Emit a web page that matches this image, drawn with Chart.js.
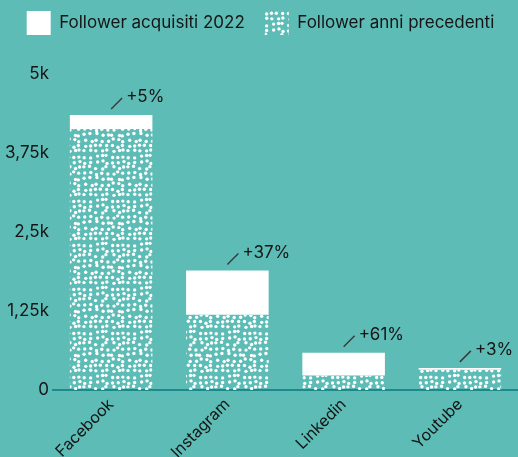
<!DOCTYPE html>
<html>
<head>
<meta charset="utf-8">
<script src="https://cdn.jsdelivr.net/npm/chart.js@4"></script>
<style>
  html, body { margin: 0; padding: 0; background: #5dbcb6; }
  #wrap { width: 518px; height: 457px; }
</style>
</head>
<body>
<div id="wrap"><canvas id="socialChart" width="518" height="457"></canvas></div>
<script>
// dati (follower)
const categories = ['Facebook', 'Instagram', 'Linkedin', 'Youtube'];
const followerPrecedenti = [4130, 1190, 230, 320];
const followerAcquisiti = [220, 700, 360, 30];
const crescitaLabels = ['+5%', '+37%', '+61%', '+3%'];
const yTicks = [0, 1250, 2500, 3750, 5000];
const yTickLabels = ['0', '1,25k', '2,5k', '3,75k', '5k'];

const TEXT = '#151515';
const FONT = 'Inter, "DejaVu Sans", sans-serif';

// tile a pois bianchi, griglia con jitter
function dotPattern() {
    const size = 44, step = 5.5, r = 1.7;
    const c = document.createElement('canvas');
    c.width = size; c.height = size;
    const g = c.getContext('2d');
    g.fillStyle = '#ffffff';
    const jit = (i, j, k) => {
        const s = Math.sin(i * 12.9898 + j * 78.233 + k * 37.719) * 43758.5453;
        return (s - Math.floor(s)) - 0.5;
    };
    for (let i = 0; i < size / step; i++) {
        for (let j = 0; j < size / step; j++) {
            const x = i * step + step / 2 + jit(i, j, 1) * 3;
            const y = j * step + step / 2 + jit(i, j, 2) * 3;
            for (const dx of [-size, 0, size]) {
                for (const dy of [-size, 0, size]) {
                    g.beginPath();
                    g.arc(x + dx, y + dy, r, 0, Math.PI * 2);
                    g.fill();
                }
            }
        }
    }
    return g.createPattern(c, 'repeat');
}

const pattern = dotPattern();

const annotationPlugin = {
    id: 'crescita',
    afterDatasetsDraw(chart) {
        const ctx = chart.ctx;
        const meta = chart.getDatasetMeta(1);
        ctx.save();
        meta.data.forEach((bar, i) => {
            const x = bar.x, y = bar.y;
            ctx.strokeStyle = '#3a3a3a';
            ctx.lineWidth = 1.5;
            ctx.beginPath();
            ctx.moveTo(x, y - 6);
            ctx.lineTo(x + 11, y - 17);
            ctx.stroke();
            ctx.fillStyle = TEXT;
            ctx.font = '17px ' + FONT;
            ctx.textAlign = 'left';
            ctx.textBaseline = 'middle';
            ctx.fillText(crescitaLabels[i], x + 15, y - 18);
        });
        ctx.restore();
    }
};

new Chart(document.getElementById('socialChart'), {
    type: 'bar',
    data: {
        labels: categories,
        datasets: [
            {
                label: 'Follower anni precedenti',
                data: followerPrecedenti,
                backgroundColor: pattern,
                borderWidth: 0
            },
            {
                label: 'Follower acquisiti 2022',
                data: followerAcquisiti,
                backgroundColor: '#ffffff',
                borderWidth: 0
            }
        ]
    },
    options: {
        responsive: false,
        animation: false,
        layout: { padding: { top: -9, right: -3, left: 0, bottom: 0 } },
        datasets: {
            bar: { categoryPercentage: 1, barPercentage: 0.71 }
        },
        plugins: {
            legend: {
                reverse: true,
                position: 'top',
                labels: {
                    boxWidth: 24,
                    boxHeight: 24,
                    padding: 20,
                    color: TEXT,
                    font: { family: FONT, size: 17 }
                }
            },
            tooltip: { enabled: false }
        },
        scales: {
            x: {
                stacked: true,
                grid: { display: false, drawTicks: false },
                border: { display: true, color: '#1d8b8e', width: 2 },
                afterFit(scale) { scale.height = 67; },
                ticks: {
                    color: TEXT,
                    font: { family: FONT, size: 16 },
                    minRotation: 45,
                    maxRotation: 45,
                    padding: 5
                }
            },
            y: {
                stacked: true,
                min: 0,
                max: 5000,
                grid: { display: false, drawTicks: false },
                border: { display: false },
                afterFit(scale) { scale.width = 53; },
                afterBuildTicks(scale) {
                    scale.ticks = yTicks.map(v => ({ value: v }));
                },
                ticks: {
                    color: TEXT,
                    font: { family: FONT, size: 17 },
                    padding: 4,
                    callback: (v) => yTickLabels[yTicks.indexOf(v)]
                }
            }
        }
    },
    plugins: [annotationPlugin, {
        id: 'legendGap',
        beforeInit(chart) {
            const fit = chart.legend.fit;
            chart.legend.fit = function () {
                fit.bind(chart.legend)();
                this.height += 29;
            };
        }
    }]
});
</script>
</body>
</html>
